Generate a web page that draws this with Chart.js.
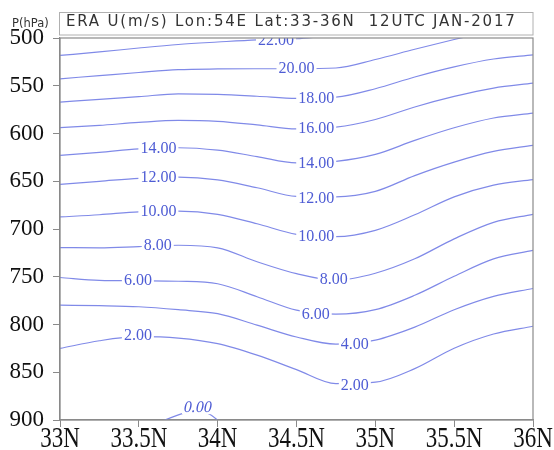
<!DOCTYPE html>
<html>
<head>
<meta charset="utf-8">
<script src="https://cdn.jsdelivr.net/npm/chart.js@4.4.0/dist/chart.umd.min.js"></script>
<style>
  html, body { margin: 0; padding: 0; background: #fff; }
  #wrap { width: 554px; height: 450px; }
</style>
</head>
<body>
<div id="wrap"><canvas id="uChart"></canvas></div>
<script>
const titleText = 'ERA U(m/s) Lon:54E Lat:33-36N  12UTC JAN-2017';
const yUnitText = 'P(hPa)';
const latTicks = [33, 33.5, 34, 34.5, 35, 35.5, 36];

// contour lines: pressure (hPa) of each U isoline at these latitudes
const lats = [33, 33.25, 33.5, 33.75, 34, 34.25, 34.5, 34.75, 35, 35.25, 35.5, 35.75, 36];
const p22 = [518.3, 514.6, 510.5, 506.8, 504.2, 501.9, 500.8, 497.0, null, null, null, null, null];
const p20 = [542.7, 539.4, 536.1, 533.2, 532.4, 532.2, 532.2, 531.4, 522.5, 511.8, 501.6, 492.2, 484.0];
const p18 = [567.2, 564.2, 561.4, 558.5, 559.1, 561.0, 563.3, 562.0, 553.1, 540.8, 530.2, 522.0, 517.6];
const p16 = [593.9, 591.5, 588.4, 586.3, 587.3, 591.0, 595.2, 593.4, 585.3, 572.2, 561.2, 552.4, 547.3];
const p14 = [622.9, 619.8, 616.1, 614.9, 617.5, 624.2, 630.8, 629.2, 621.9, 607.2, 594.0, 583.8, 578.7];
const p12 = [653.2, 650.1, 646.9, 645.6, 648.5, 656.8, 665.8, 666.3, 660.6, 644.1, 630.0, 618.8, 612.4];
const p10 = [687.4, 685.1, 682.0, 681.2, 684.6, 694.5, 705.6, 708.0, 701.4, 685.1, 666.3, 654.0, 648.3];
const p8  = [719.5, 719.7, 718.4, 717.0, 719.7, 734.3, 746.8, 753.7, 746.3, 731.2, 710.3, 693.0, 684.6];
const p6  = [750.8, 753.7, 754.2, 754.7, 757.3, 770.9, 785.0, 789.2, 784.5, 769.4, 749.5, 731.3, 722.3];
const p4  = [779.8, 780.3, 781.4, 784.5, 788.7, 800.7, 813.1, 820.6, 816.4, 802.8, 784.5, 770.5, 762.3];
const p2  = [825.1, 817.0, 812.8, 814.3, 820.1, 832.1, 847.2, 861.9, 860.4, 846.2, 824.8, 809.9, 801.8];
const lats0 = [33.62, 33.68, 33.78, 33.875, 33.96, 34.02];
const p0    = [903, 899, 893, 889.5, 895, 903];

// contour labels
const labelLat  = [34.37, 34.50, 34.625, 34.625, 33.624, 34.625, 33.624, 34.625, 33.624, 34.625, 33.62, 34.736, 33.494, 34.622, 34.87, 33.494, 34.87, 33.875];
const labelP    = [502.6, 532.2, 563.6, 595.2, 615.9, 631.7, 646.2, 668.2, 681.5, 708.2, 718.1, 753.7, 754.0, 789.5, 821.7, 812.2, 864.2, 887.6];
const labelText = ['22.00', '20.00', '18.00', '16.00', '14.00', '14.00', '12.00', '12.00', '10.00', '10.00', '8.00', '8.00', '6.00', '6.00', '4.00', '2.00', '2.00', '0.00'];

const lineColor = 'rgb(128,138,232)';
const labelColor = 'rgb(78,92,212)';
const axisColor = '#8a8a8a';
const serif = '"Liberation Serif", "Times New Roman", serif';

function contour(xs, ps) {
    return {
        data: xs.map((x, i) => ({ x: x, y: ps[i] })),
        borderColor: lineColor,
        borderWidth: 1.2,
        pointRadius: 0,
        cubicInterpolationMode: 'monotone',
        spanGaps: false
    };
}

const datasets = [p22, p20, p18, p16, p14, p12, p10, p8, p6, p4, p2].map(p => contour(lats, p));
datasets.push(contour(lats0, p0));

const frameAndTitle = {
    id: 'frameAndTitle',
    afterDatasetsDraw(chart) {
        const { ctx, chartArea, scales } = chart;
        ctx.save();
        ctx.beginPath();
        ctx.rect(chartArea.left, chartArea.top, chartArea.right - chartArea.left, chartArea.bottom - chartArea.top);
        ctx.clip();
        ctx.font = '16px ' + serif;
        ctx.textAlign = 'center';
        ctx.textBaseline = 'middle';
        labelText.forEach((t, i) => {
            const x = scales.x.getPixelForValue(labelLat[i]);
            const y = scales.y.getPixelForValue(labelP[i]);
            const w = ctx.measureText(t).width;
            ctx.fillStyle = '#fff';
            ctx.fillRect(x - w / 2 - 2, y - 6, w + 4, 12);
            ctx.fillStyle = labelColor;
            if (t === '0.00') {
                ctx.save();
                ctx.translate(x, y);
                ctx.transform(1, 0, -0.2, 1, 0, 0);
                ctx.fillText(t, 0, 0);
                ctx.restore();
            } else {
                ctx.fillText(t, x, y);
            }
        });
        ctx.restore();
    },
    afterDraw(chart) {
        const { ctx, chartArea, scales } = chart;
        ctx.save();
        // frame
        ctx.strokeStyle = axisColor;
        ctx.lineWidth = 1.2;
        ctx.strokeRect(chartArea.left, chartArea.top, chartArea.right - chartArea.left, chartArea.bottom - chartArea.top);

        // title box
        ctx.fillStyle = '#fff';
        ctx.fillRect(59, 12.5, 474, 22.5);
        ctx.strokeStyle = '#b0b0b0';
        ctx.lineWidth = 1;
        ctx.strokeRect(59.5, 12.5, 473.5, 22.5);
        ctx.fillStyle = '#333';
        ctx.font = '15px "DejaVu Sans"';
        ctx.textAlign = 'left';
        ctx.textBaseline = 'alphabetic';
        const w0 = ctx.measureText(titleText).width;
        ctx.letterSpacing = ((449 - w0) / (titleText.length - 1)).toFixed(2) + 'px';
        ctx.fillText(titleText, 66, 26);
        ctx.letterSpacing = '0px';

        ctx.font = '11.5px "DejaVu Sans"';
        ctx.fillText(yUnitText, 12, 27);

        // x tick labels, drawn tall like the original
        ctx.fillStyle = '#111';
        ctx.font = '23px ' + serif;
        ctx.textAlign = 'center';
        scales.x.ticks.forEach(tk => {
            const x = scales.x.getPixelForValue(tk.value);
            ctx.save();
            ctx.translate(x, 447);
            ctx.scale(1, 1.3);
            ctx.fillText(tk.value + 'N', 0, 0);
            ctx.restore();
        });
        ctx.restore();
    }
};

new Chart(document.getElementById('uChart'), {
    type: 'line',
    data: { datasets: datasets },
    options: {
        responsive: true,
        maintainAspectRatio: false,
        animation: false,
        layout: { padding: { top: 38, right: 21, left: 0, bottom: 0 } },
        plugins: { legend: { display: false }, tooltip: { enabled: false } },
        scales: {
            x: {
                type: 'linear',
                min: 33,
                max: 36,
                afterBuildTicks: s => { s.ticks = latTicks.map(v => ({ value: v })); },
                ticks: { display: false },
                grid: { drawOnChartArea: false, tickLength: 7, color: axisColor },
                border: { color: axisColor, width: 1.2 },
                afterFit: s => { s.height = 30; }
            },
            y: {
                type: 'linear',
                reverse: true,
                min: 500,
                max: 900,
                ticks: { stepSize: 50, padding: 9, color: '#111', font: { family: serif, size: 23 } },
                grid: { drawOnChartArea: false, tickLength: 7, color: axisColor },
                border: { color: axisColor, width: 1.2 },
                afterFit: s => { s.width = 60; }
            }
        }
    },
    plugins: [frameAndTitle]
});
</script>
</body>
</html>
